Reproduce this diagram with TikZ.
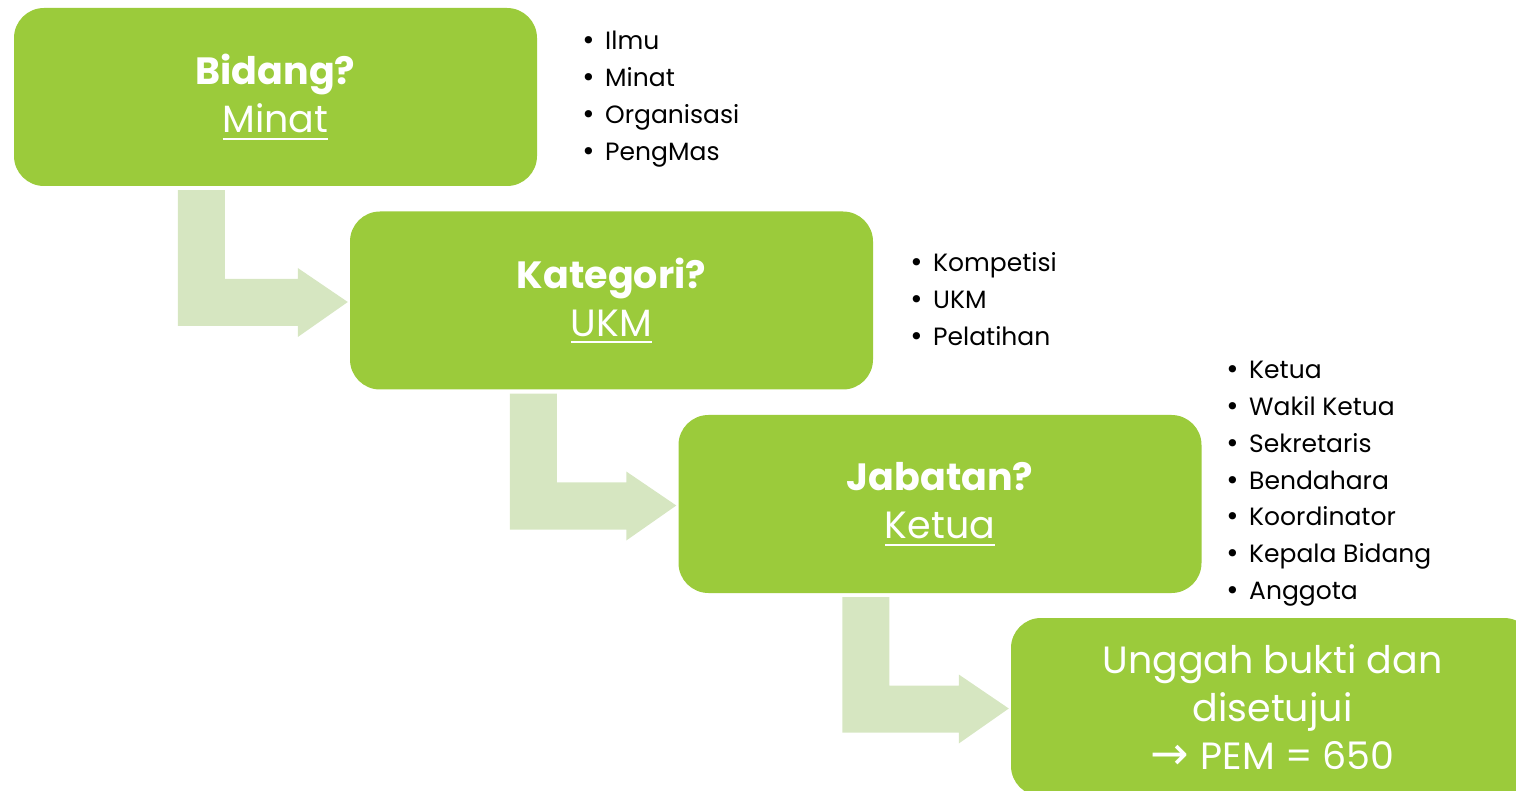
\documentclass[tikz,border=0pt]{standalone}
\usetikzlibrary{calc}
\usepackage{fontspec}
\setmainfont{Poppins}
\newfontfamily\symfont{DejaVu Sans}
\newcommand\myul[1]{\setbox0\hbox{#1}\leavevmode\rlap{\rule[-7pt]{\wd0}{1.8pt}}\box0}
\definecolor{boxgreen}{RGB}{155,203,59}
\definecolor{arrowgreen}{RGB}{214,230,193}
\tikzset{
  stepbox/.style={fill=boxgreen, rounded corners=30pt, minimum width=523pt,
    minimum height=178pt, inner sep=0pt, text=white, align=center,
    font=\fontsize{38}{48}\selectfont},
  bulletitem/.style={anchor=base west, inner sep=0pt, text=black,
    font=\fontsize{25}{30}\selectfont},
  bentarrow/.style={fill=arrowgreen}
}
\newcommand\bul[1]{\makebox[24pt][l]{\symfont •}#1}
\begin{document}
\begin{tikzpicture}[x=1pt,y=-1pt]
\useasboundingbox (0,0) rectangle (1516,791);
\path[clip] (0,0) rectangle (1516,791);
\node[stepbox] (b1) at (275.5,97) {\textbf{Bidang?}\\\myul{Minat}};
\node[stepbox] (b2) at (611.5,300.5) {\textbf{Kategori?}\\\myul{UKM}};
\node[stepbox] (b3) at (940,504) {\textbf{Jabatan?}\\\myul{Ketua}};
\node[stepbox] (b4) at (1272.5,707) {Unggah bukti dan\\disetujui\\{\fontsize{46}{48}\symfont →}\hspace{12pt}PEM = 650};
% bent arrows
\foreach \a/\b/\o in {b1/b2/164,b2/b3/160,b3/b4/164}{
  \fill[bentarrow] let \p1=(\a.south west), \p2=(\b.west) in
    (\x1+\o pt,\y1-4pt) -- (\x1+\o pt+47pt,\y1-4pt) -- (\x1+\o pt+47pt,\y2+21.5pt)
    -- (\x2-52pt,\y2+21.5pt) -- (\x2-52pt,\y2+32.5pt) -- (\x2-2pt,\y2-1.5pt)
    -- (\x2-52pt,\y2-36.5pt) -- (\x2-52pt,\y2-25.5pt) -- (\x1+\o pt,\y2-25.5pt) -- cycle;
}
% bullet lists
\foreach \t [count=\i] in {Ilmu,Minat,Organisasi,PengMas}
  \node[bulletitem] (la\i) at (581,50+36.7*\i-36.7) {\bul{\t}};
\foreach \t [count=\i] in {Kompetisi,UKM,Pelatihan}
  \node[bulletitem] (lb\i) at (909,272+36.7*\i-36.7) {\bul{\t}};
\foreach \t [count=\i] in {Ketua,Wakil Ketua,Sekretaris,Bendahara,Koordinator,Kepala Bidang,Anggota}
  \node[bulletitem] (lc\i) at (1225,379+36.7*\i-36.7) {\bul{\t}};
\end{tikzpicture}
\end{document}
